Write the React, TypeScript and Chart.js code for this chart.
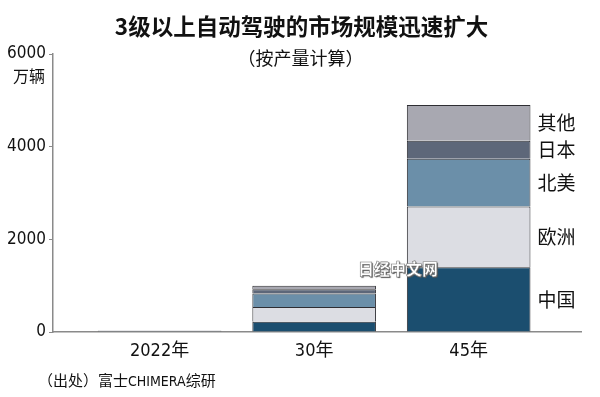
import React, { useEffect, useRef } from "react";
import { Chart, registerables } from "chart.js";

Chart.register(...registerables);

const years = ["2022年", "30年", "45年"];
const regions = ["中国", "欧洲", "北美", "日本", "其他"];
const china = [10, 220, 1400];
const europe = [6, 320, 1310];
const northAmerica = [8, 290, 1030];
const japan = [3, 90, 390];
const others = [3, 80, 770];
const yTickValues = [0, 2000, 4000, 6000];

const regionColors = ["#1b4e6f", "#dcdde3", "#6b8fa9", "#5d6779", "#a8a8b1"];
const NARROW = "'DejaVu Sans Condensed', 'Noto Sans CJK SC', sans-serif";
const CJK = "'Noto Sans CJK SC', 'Noto Sans', sans-serif";

const sideLabels = {
  id: "sideLabels",
  afterDatasetsDraw(chart: any) {
    const ctx = chart.ctx;
    ctx.save();
    ctx.font = `19px ${CJK}`;
    ctx.fillStyle = "#111";
    ctx.textBaseline = "middle";
    ctx.textAlign = "left";
    chart.data.datasets.forEach((ds: any, i: number) => {
      const meta = chart.getDatasetMeta(i);
      const el: any = meta.data[years.length - 1];
      if (!el) return;
      const y = (el.y + el.base) / 2;
      const x = el.x + el.width / 2 + 7;
      ctx.fillText(ds.label, x, y);
    });
    ctx.restore();
  },
};

export default function App() {
  const ref = useRef<HTMLCanvasElement | null>(null);

  useEffect(() => {
    document.body.style.margin = "0";
    const series = [china, europe, northAmerica, japan, others];
    const chart = new Chart(ref.current as HTMLCanvasElement, {
      type: "bar",
      data: {
        datasets: series.map((vals, i) => ({
          label: regions[i],
          data: vals.map((v, j) => ({ x: j, y: v })),
          backgroundColor: regionColors[i],
          borderColor: "#2e2e33",
          borderWidth: 1,
          categoryPercentage: 1,
          barPercentage: 0.8,
        })),
      },
      options: {
        responsive: false,
        animation: false,
        layout: { padding: { left: 0, right: 19, top: 54, bottom: 0 } },
        plugins: { legend: { display: false }, tooltip: { enabled: false }, title: { display: false } },
        scales: {
          x: {
            type: "linear",
            stacked: true,
            offset: false,
            min: -0.69,
            max: 2.727,
            afterBuildTicks: (scale: any) => {
              scale.ticks = years.map((_, i) => ({ value: i }));
            },
            afterFit: (scale: any) => {
              scale.height = 65;
            },
            grid: { display: false, drawTicks: false, offset: false },
            border: { display: true, color: "#8a8a8a", width: 1.5 },
            ticks: {
              padding: 9,
              color: "#111",
              font: { family: NARROW, size: 18 },
              callback: (v: any) => years[v] ?? "",
              maxRotation: 0,
              autoSkip: false,
            },
          },
          y: {
            stacked: true,
            min: 0,
            max: 6000,
            afterBuildTicks: (scale: any) => {
              scale.ticks = yTickValues.map((v) => ({ value: v }));
            },
            afterFit: (scale: any) => {
              scale.width = 53;
            },
            grid: {
              display: true,
              drawOnChartArea: false,
              drawTicks: true,
              tickLength: 4,
              tickColor: "#8a8a8a",
            },
            border: { display: true, color: "#8a8a8a", width: 1.5 },
            ticks: {
              padding: 3,
              color: "#111",
              font: { family: NARROW, size: 17 },
              callback: (v: any) => String(v),
            },
          },
        },
      },
      plugins: [sideLabels],
    } as any);
    return () => chart.destroy();
  }, []);

  const abs = (style: React.CSSProperties): React.CSSProperties => ({
    position: "absolute",
    whiteSpace: "nowrap",
    lineHeight: 1,
    ...style,
  });

  return (
    <div style={{ position: "fixed", left: 0, top: 0, width: 600, height: 397, background: "#fff", overflow: "hidden" }}>
      <canvas ref={ref} width={600} height={397} style={{ width: 600, height: 397, display: "block" }} />
      <div style={abs({ left: 0, width: 603, top: 14, textAlign: "center", fontFamily: CJK, fontWeight: 700, fontSize: 22.5, color: "#111" })}>
        3级以上自动驾驶的市场规模迅速扩大
      </div>
      <div style={abs({ left: 0, width: 601, top: 48, textAlign: "center", fontFamily: CJK, fontSize: 18, color: "#111" })}>
        （按产量计算）
      </div>
      <div style={abs({ left: 13, top: 67, fontFamily: CJK, fontSize: 16, color: "#111" })}>万辆</div>
      <div style={abs({ left: 38, top: 372, fontFamily: CJK, fontSize: 15, color: "#111" })}>
        （出处）富士<span style={{ fontFamily: "'DejaVu Sans Condensed', sans-serif", fontSize: 14 }}>CHIMERA</span>综研
      </div>
      <div
        style={abs({
          left: 358,
          top: 260,
          fontFamily: CJK,
          fontWeight: 900,
          fontSize: 16,
          color: "#fff",
          WebkitTextStroke: "0.6px #777",
          textShadow: "1px 1px 1px #555",
        })}
      >
        日经中文网
      </div>
    </div>
  );
}
